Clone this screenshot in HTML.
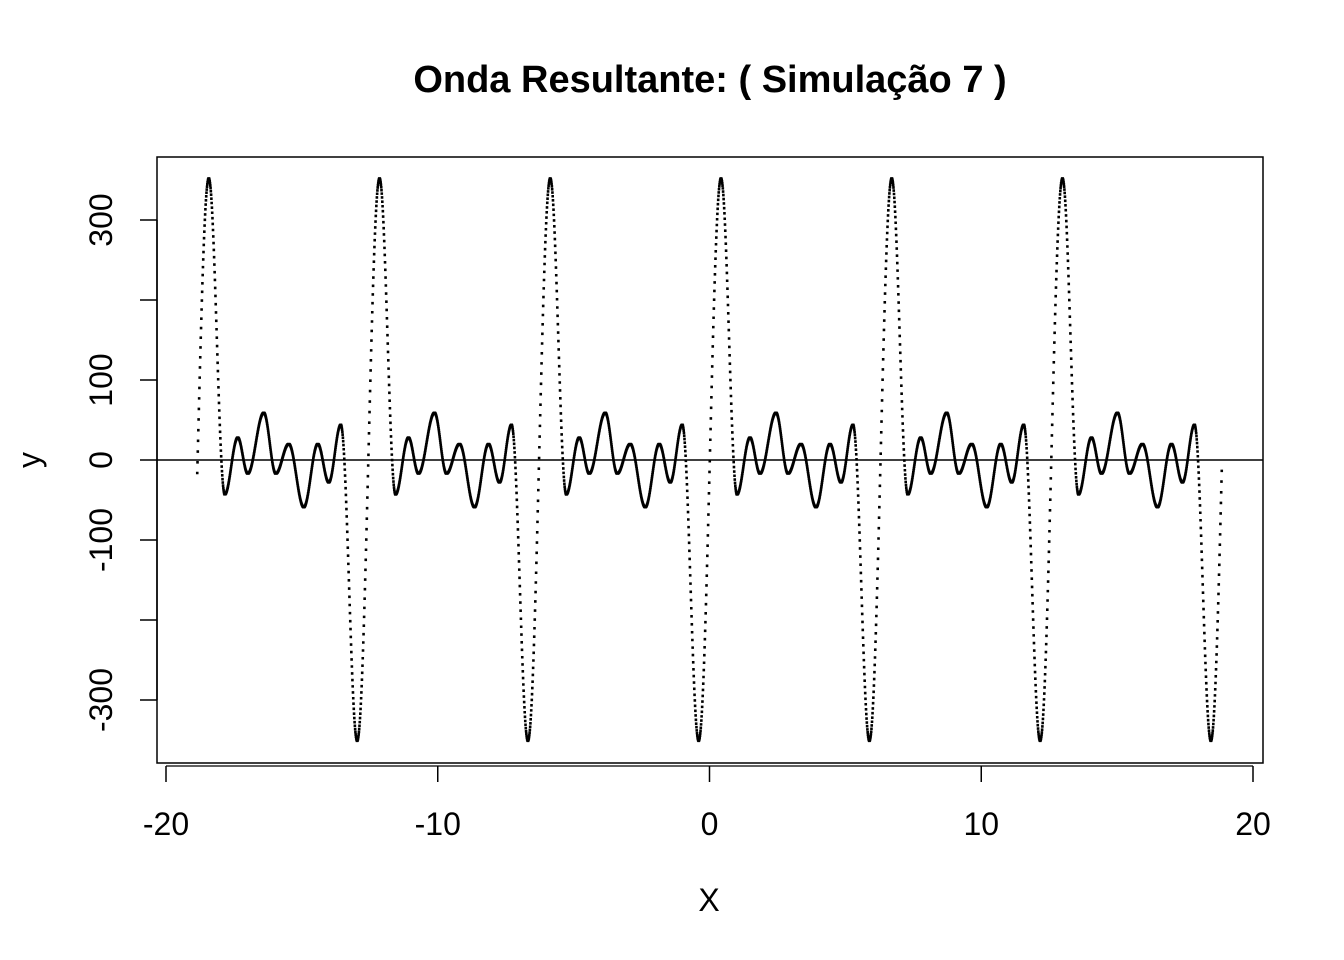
<!DOCTYPE html>
<html><head><meta charset="utf-8"><style>
body{margin:0;background:#fff}
svg{display:block;font-family:"Liberation Sans",Arial,sans-serif}
</style></head><body>
<svg id="chart" width="1344" height="960">
<rect width="1344" height="960" fill="#fff"/>
<text x="710" y="92" text-anchor="middle" font-size="38" font-weight="bold">Onda Resultante: ( Simulação 7 )</text>
<rect x="157" y="157" width="1106" height="606" fill="none" stroke="#000" stroke-width="1.5"/>
<g id="xaxis"></g>
<g id="yaxis"></g>
<text x="709" y="911" text-anchor="middle" font-size="32">X</text>
<text transform="translate(40,460) rotate(-90)" text-anchor="middle" font-size="32">y</text>
<line x1="157" x2="1263" y1="460" y2="460" stroke="#000" stroke-width="1.5"/>
<g id="pts"></g>
</svg>
<script>
// one period of the wave: extrema x (relative to the period start) and y values
const extremaX = [-0.400, 0.423, 1.012, 1.490, 1.858, 2.447, 2.889, 3.367, 3.919, 4.434, 4.839, 5.281, 5.883];
const extremaY = [-351, 352, -43, 28, -17, 59, -17, 20, -59, 20, -28, 44, -351];
const xRange = [-18.85, 18.85];
const xStep = 0.01;
const xTicks = [-20, -10, 0, 10, 20];
const yTicks = [-300, -200, -100, 0, 100, 200, 300];
const yTickLabels = ["-300", "", "-100", "0", "100", "", "300"];

const NS = "http://www.w3.org/2000/svg";
const sx = v => 709.5 + v * 27.175;
const sy = v => 460 - v * 0.8;
const period = extremaX[extremaX.length - 1] - extremaX[0];
function waveAt(x) {
  let p = ((x - extremaX[0]) % period + period) % period + extremaX[0];
  for (let i = 0; i < extremaX.length - 1; i++) {
    if (p >= extremaX[i] && p <= extremaX[i + 1]) {
      const t = (p - extremaX[i]) / (extremaX[i + 1] - extremaX[i]);
      const w = (1 - Math.cos(Math.PI * t)) / 2;
      return extremaY[i] + (extremaY[i + 1] - extremaY[i]) * w;
    }
  }
  return 0;
}
const pts = document.getElementById('pts');
let d = "";
for (let x = xRange[0]; x <= xRange[1] + 1e-9; x += xStep) {
  const px = sx(x), py = sy(waveAt(x));
  d += `M${(px - 1.3).toFixed(2)} ${py.toFixed(2)}h2.6`;
}
const path = document.createElementNS(NS, 'path');
path.setAttribute('d', d);
path.setAttribute('stroke', '#000');
path.setAttribute('stroke-width', '2.6');
path.setAttribute('fill', 'none');


pts.appendChild(path);

const xa = document.getElementById('xaxis');
const xl = document.createElementNS(NS, 'line');
xl.setAttribute('x1', sx(xTicks[0])); xl.setAttribute('x2', sx(xTicks[xTicks.length - 1]));
xl.setAttribute('y1', 766); xl.setAttribute('y2', 766);
xl.setAttribute('stroke', '#000'); xl.setAttribute('stroke-width', '1.3');


xa.appendChild(xl);
xTicks.forEach(v => {
  const t = document.createElementNS(NS, 'line');
  t.setAttribute('x1', sx(v)); t.setAttribute('x2', sx(v));
  t.setAttribute('y1', 766); t.setAttribute('y2', 782);
  t.setAttribute('stroke', '#000'); t.setAttribute('stroke-width', '1.5');
  
  
  xa.appendChild(t);
  const l = document.createElementNS(NS, 'text');
  l.setAttribute('x', sx(v)); l.setAttribute('y', 835);
  l.setAttribute('text-anchor', 'middle'); l.setAttribute('font-size', '32');
  l.textContent = v;
  
  
  xa.appendChild(l);
});
const ya = document.getElementById('yaxis');
const yl = document.createElementNS(NS, 'line');
yl.setAttribute('x1', 157); yl.setAttribute('x2', 157);
yl.setAttribute('y1', sy(yTicks[0])); yl.setAttribute('y2', sy(yTicks[yTicks.length - 1]));
yl.setAttribute('stroke', '#000'); yl.setAttribute('stroke-width', '1.5');


ya.appendChild(yl);
yTicks.forEach((v, i) => {
  const t = document.createElementNS(NS, 'line');
  t.setAttribute('x1', 140); t.setAttribute('x2', 157);
  t.setAttribute('y1', sy(v)); t.setAttribute('y2', sy(v));
  t.setAttribute('stroke', '#000'); t.setAttribute('stroke-width', '1.5');
  
  
  ya.appendChild(t);
  if (yTickLabels[i]) {
    const l = document.createElementNS(NS, 'text');
    l.setAttribute('transform', `translate(112,${sy(v)}) rotate(-90)`);
    l.setAttribute('text-anchor', 'middle'); l.setAttribute('font-size', '32');
    l.textContent = yTickLabels[i];
    
    
    ya.appendChild(l);
  }
});
</script>
</body></html>
